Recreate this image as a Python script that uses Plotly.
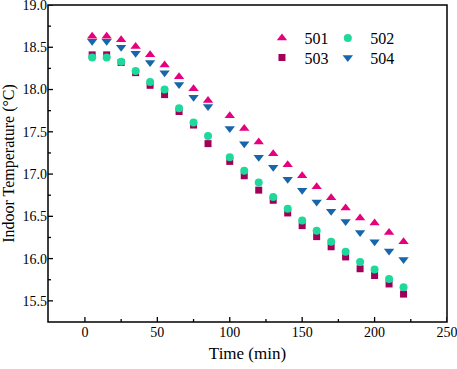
import plotly.graph_objects as go

time_min = [5, 15, 25, 35, 45, 55, 65, 75, 85, 100, 110, 120, 130, 140, 150, 160, 170, 180, 190, 200, 210, 220]
t501 = [18.63, 18.63, 18.59, 18.51, 18.41, 18.29, 18.15, 18.01, 17.87, 17.69, 17.54, 17.38, 17.24, 17.11, 16.98, 16.85, 16.72, 16.60, 16.48, 16.42, 16.31, 16.20]
t502 = [18.38, 18.38, 18.33, 18.22, 18.09, 18.00, 17.78, 17.61, 17.45, 17.20, 17.04, 16.90, 16.73, 16.59, 16.45, 16.33, 16.20, 16.08, 15.96, 15.87, 15.76, 15.66]
t503 = [18.41, 18.41, 18.32, 18.20, 18.05, 17.94, 17.74, 17.58, 17.36, 17.15, 16.98, 16.81, 16.69, 16.54, 16.39, 16.26, 16.14, 16.02, 15.88, 15.80, 15.70, 15.58]
t504 = [18.57, 18.57, 18.50, 18.43, 18.32, 18.20, 18.06, 17.91, 17.80, 17.54, 17.36, 17.20, 17.08, 16.94, 16.81, 16.67, 16.56, 16.44, 16.31, 16.20, 16.09, 15.99]
x_ticks = [0, 50, 100, 150, 200, 250]
x_minor = [25, 75, 125, 175, 225]
y_ticks = [15.5, 16.0, 16.5, 17.0, 17.5, 18.0, 18.5, 19.0]
y_minor = [15.75, 16.25, 16.75, 17.25, 17.75, 18.25, 18.75]

FONT = "Liberation Serif, Times New Roman, serif"
W, H = 457, 369
ML, MR, MT, MB = 48, 10, 5, 47
PW, PH = W - ML - MR, H - MT - MB

fig = go.Figure()
fig.add_trace(go.Scatter(x=time_min, y=t503, mode="markers", name="503", legend="legend3",
                         marker=dict(symbol="square", size=7, color="#A0005A")))
fig.add_trace(go.Scatter(x=time_min, y=t504, mode="markers", name="504", legend="legend4",
                         marker=dict(symbol="triangle-down", size=9, color="#1765AA")))
fig.add_trace(go.Scatter(x=time_min, y=t501, mode="markers", name="501", legend="legend",
                         marker=dict(symbol="triangle-up", size=9, color="#E6007E")))
fig.add_trace(go.Scatter(x=time_min, y=t502, mode="markers", name="502", legend="legend2",
                         marker=dict(symbol="circle", size=8, color="#1ED99B")))

fig.update_xaxes(
    range=[-25.5, 250], tickmode="array", tickvals=x_ticks, ticktext=[str(v) for v in x_ticks],
    showline=False, ticks="", showgrid=False, zeroline=False, ticklabeloverflow="allow",
    tickfont=dict(family=FONT, size=14, color="black"),
    title=dict(text="Time (min)", font=dict(family=FONT, size=17, color="black"), standoff=8),
)
fig.update_yaxes(
    range=[15.25, 19.0], tickmode="array", tickvals=y_ticks, ticktext=[f"{v:.1f}" for v in y_ticks],
    showline=False, ticks="", showgrid=False, zeroline=False, ticklabeloverflow="allow",
    tickfont=dict(family=FONT, size=14, color="black"),
    title=dict(text="Indoor Temperature (°C)", font=dict(family=FONT, size=16, color="black"), standoff=4),
)

# frame
fig.add_shape(type="rect", xref="paper", yref="paper", x0=0, y0=0, x1=1, y1=1,
              line=dict(color="black", width=1.5), fillcolor="rgba(0,0,0,0)", layer="above")
# inside ticks along the bottom and left axes, positioned by the axis scales
tick_line = dict(color="black", width=1.3)
for v in x_ticks:
    fig.add_shape(type="line", xref="x", yref="y domain", x0=v, x1=v, y0=0, y1=5 / PH, line=tick_line)
for v in x_minor:
    fig.add_shape(type="line", xref="x", yref="y domain", x0=v, x1=v, y0=0, y1=3 / PH, line=tick_line)
for v in y_ticks:
    fig.add_shape(type="line", xref="x domain", yref="y", x0=0, x1=5 / PW, y0=v, y1=v, line=tick_line)
for v in y_minor:
    fig.add_shape(type="line", xref="x domain", yref="y", x0=0, x1=3 / PW, y0=v, y1=v, line=tick_line)

legend_common = dict(font=dict(family=FONT, size=16, color="black"), bgcolor="rgba(0,0,0,0)",
                     xanchor="left", yanchor="top", orientation="v", itemwidth=35)
fig.update_layout(
    template="none",
    width=W, height=H,
    font=dict(family=FONT, color="black"),
    margin=dict(l=ML, r=MR, t=MT, b=MB, autoexpand=False),
    paper_bgcolor="white", plot_bgcolor="white",
    showlegend=True,
    legend=dict(x=0.53, y=0.949, **legend_common),
    legend2=dict(x=0.695, y=0.949, **legend_common),
    legend3=dict(x=0.53, y=0.888, **legend_common),
    legend4=dict(x=0.695, y=0.888, **legend_common),
)

fig.write_html("out.html", config={"displayModeBar": False},
               post_script="document.body.style.margin='0px';document.body.style.padding='0px';")
